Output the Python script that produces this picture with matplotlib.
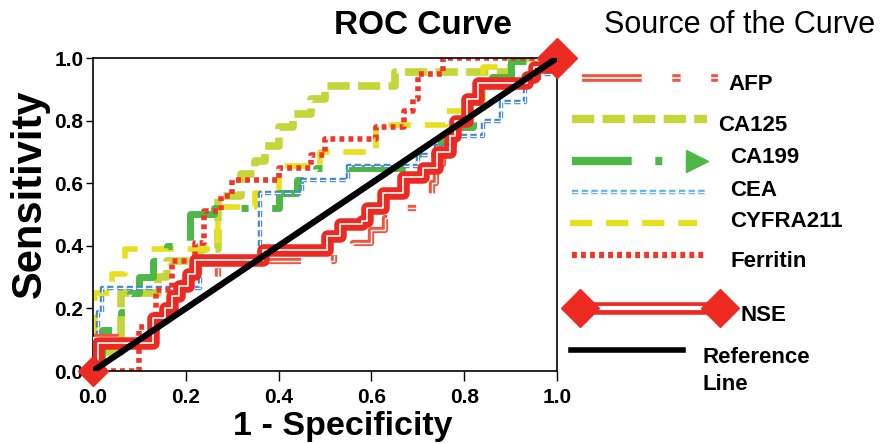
import matplotlib
matplotlib.use('Agg')
import matplotlib.pyplot as plt

plt.rcParams['font.family'] = ['Liberation Sans', 'DejaVu Sans']
plt.rcParams['lines.scale_dashes'] = False

# ROC points, left end of each horizontal step (1 - specificity, sensitivity)
afp_fpr = [0, 0.0, 0.13, 0.15, 0.17, 0.19, 0.27, 0.52, 0.56, 0.60, 0.63, 0.67, 0.70, 0.73, 0.74, 0.755, 0.77, 0.79, 0.81, 0.83, 0.90, 0.96, 1.0]
afp_tpr = [0, 0.11, 0.15, 0.20, 0.25, 0.28, 0.35, 0.38, 0.41, 0.45, 0.49, 0.52, 0.56, 0.60, 0.66, 0.70, 0.75, 0.82, 0.87, 0.91, 0.93, 0.98, 1.0]

ca125_fpr = [0, 0.02, 0.06, 0.14, 0.16, 0.23, 0.27, 0.32, 0.35, 0.37, 0.40, 0.43, 0.47, 0.50, 0.65, 0.90, 1.0]
ca125_tpr = [0, 0.06, 0.25, 0.30, 0.35, 0.39, 0.56, 0.63, 0.67, 0.72, 0.78, 0.82, 0.87, 0.91, 0.955, 1.0, 1.0]

ca199_fpr = [0, 0.005, 0.02, 0.06, 0.08, 0.10, 0.13, 0.16, 0.21, 0.26, 0.40, 0.44, 0.48, 0.70, 0.75, 0.78, 0.82, 0.86, 0.90, 1.0]
ca199_tpr = [0, 0.04, 0.13, 0.19, 0.25, 0.30, 0.35, 0.40, 0.50, 0.52, 0.57, 0.61, 0.65, 0.70, 0.74, 0.78, 0.86, 0.94, 0.99, 1.0]

cea_fpr = [0, 0.01, 0.02, 0.23, 0.36, 0.45, 0.55, 0.70, 0.74, 0.78, 0.84, 0.88, 0.93, 1.0]
cea_tpr = [0, 0.19, 0.265, 0.355, 0.57, 0.61, 0.655, 0.69, 0.72, 0.75, 0.80, 0.86, 0.95, 1.0]

cyfra_fpr = [0, 0.005, 0.04, 0.07, 0.27, 0.35, 0.40, 0.49, 0.61, 0.76, 0.84, 0.88, 1.0]
cyfra_tpr = [0, 0.25, 0.31, 0.39, 0.525, 0.57, 0.655, 0.70, 0.785, 0.83, 0.97, 1.0, 1.0]

ferritin_fpr = [0, 0.10, 0.135, 0.17, 0.22, 0.24, 0.275, 0.30, 0.40, 0.47, 0.50, 0.61, 0.67, 0.69, 0.70, 0.755, 1.0]
ferritin_tpr = [0, 0.14, 0.26, 0.35, 0.41, 0.51, 0.56, 0.61, 0.65, 0.69, 0.74, 0.78, 0.83, 0.87, 0.95, 1.0, 1.0]

nse_fpr = [0, 0.01, 0.13, 0.155, 0.17, 0.185, 0.205, 0.22, 0.366, 0.504, 0.532, 0.58, 0.59, 0.625, 0.668, 0.711, 0.741, 0.769, 0.78, 0.806, 0.83, 0.935, 0.95, 1.0]
nse_tpr = [0, 0.09, 0.17, 0.20, 0.24, 0.27, 0.31, 0.355, 0.387, 0.43, 0.47, 0.48, 0.52, 0.57, 0.62, 0.65, 0.70, 0.75, 0.80, 0.87, 0.92, 0.94, 0.97, 1.0]

ref_x = [0, 1]
ref_y = [0, 1]

tick_vals = [0, 0.2, 0.4, 0.6, 0.8, 1.0]
tick_labels = ['0.0', '0.2', '0.4', '0.6', '0.8', '1.0']

names = ['AFP', 'CA125', 'CA199', 'CEA', 'CYFRA211', 'Ferritin', 'NSE']

# colours
c_afp = '#f2553f'
c_ca125 = '#c5d63a'
c_ca199 = '#4db848'
c_cea = '#3f86d6'
c_cea_leg = '#55b5e6'
c_cyfra = '#e6e01e'
c_fer = '#f0352b'
c_nse = '#ec2a22'

d_afp = (43, 22, 6, 22)
d_ca125 = (16, 6)
d_ca199 = (43, 17, 5, 17)
d_cea = (4.5, 2.5)
d_cyfra = (16, 10)
d_fer = (3.5, 3)

fig = plt.figure(figsize=(8.84, 4.44), dpi=100)
ax = fig.add_axes([93 / 884, 1 - 371 / 444, 464 / 884, 313 / 444])


def double_step(a, x, y, color, lw, core, dashes=None, z=2):
    l1, = a.step(x, y, where='post', color=color, lw=lw, zorder=z)
    l2, = a.step(x, y, where='post', color='white', lw=core, zorder=z + 0.01)
    if dashes:
        l1.set_dashes(dashes)
        l2.set_dashes(dashes)


s, = ax.step(ca125_fpr, ca125_tpr, where='post', color=c_ca125, lw=5.5, zorder=2)
s.set_dashes(d_ca125)
s, = ax.step(cyfra_fpr, cyfra_tpr, where='post', color=c_cyfra, lw=4, zorder=2.1)
s.set_dashes(d_cyfra)
s, = ax.step(ca199_fpr, ca199_tpr, where='post', color=c_ca199, lw=5, zorder=2.2)
s.set_dashes(d_ca199)
double_step(ax, cea_fpr, cea_tpr, c_cea, 3.2, 0.9, d_cea, z=2.3)
s, = ax.step(ferritin_fpr, ferritin_tpr, where='post', color=c_fer, lw=4, zorder=2.4)
s.set_dashes(d_fer)
double_step(ax, afp_fpr, afp_tpr, c_afp, 4.5, 1.0, d_afp, z=2.5)
double_step(ax, nse_fpr, nse_tpr, c_nse, 9, 1.2, None, z=2.6)
ax.plot(nse_fpr[:1], nse_tpr[:1], 'D', color=c_nse, ms=15, zorder=2.7, clip_on=False)
ax.plot(nse_fpr[-1:], nse_tpr[-1:], 'D', color=c_nse, ms=20, zorder=2.7, clip_on=False)
ax.plot(ref_x, ref_y, color='black', lw=4.5, zorder=3, solid_capstyle='round')

ax.set_xlim(0, 1)
ax.set_ylim(0, 1)
ax.set_xticks(tick_vals)
ax.set_xticklabels(tick_labels, fontsize=15, fontweight='bold')
ax.set_yticks(tick_vals)
ax.set_yticklabels(tick_labels, fontsize=15, fontweight='bold')
ax.tick_params(axis='x', length=7, width=1, pad=5)
ax.tick_params(axis='y', length=5, width=1, pad=2)
for sp in ax.spines.values():
    sp.set_linewidth(1.2)

# overlay for titles and legend, in pixel coordinates
lg = fig.add_axes([0, 0, 1, 1])
lg.set_xlim(0, 884)
lg.set_ylim(444, 0)
lg.axis('off')
lg.patch.set_visible(False)

lg.text(423, 26, 'ROC Curve', fontsize=24, fontweight='bold', ha='center', va='center')
lg.text(604, 25, 'Source of the Curve', fontsize=22, ha='left', va='center')
lg.text(343, 426, '1 - Specificity', fontsize=24.5, fontweight='bold', ha='center', va='center')
lg.text(30, 194, 'Sensitivity', fontsize=30, fontweight='bold', ha='center', va='center', rotation=90)

lab = dict(fontsize=16, fontweight='bold', ha='left', va='center')

# AFP
a, = lg.plot([582, 718], [78, 78], color=c_afp, lw=5.5)
a.set_dashes(d_afp)
b, = lg.plot([582, 718], [78, 78], color='white', lw=1.2)
b.set_dashes(d_afp)
lg.text(728, 84, names[0], **lab)
# CA125
a, = lg.plot([572, 707], [119, 119], color=c_ca125, lw=6)
a.set_dashes(d_ca125)
lg.text(718, 125, names[1], **lab)
# CA199
a, = lg.plot([572, 690], [161, 161], color=c_ca199, lw=6)
a.set_dashes(d_ca199)
lg.plot([697], [161], '>', color=c_ca199, ms=16)
lg.text(730, 157, names[2], **lab)
# CEA
a, = lg.plot([572, 707], [192, 192], color=c_cea_leg, lw=3.2)
a.set_dashes(d_cea)
b, = lg.plot([572, 707], [192, 192], color='white', lw=0.9)
b.set_dashes(d_cea)
lg.text(730, 190, names[3], **lab)
# CYFRA211
a, = lg.plot([570, 697], [223, 223], color=c_cyfra, lw=4.5)
a.set_dashes(d_cyfra)
lg.text(730, 221, names[4], **lab)
# Ferritin
a, = lg.plot([572, 707], [255, 255], color=c_fer, lw=4.5)
a.set_dashes(d_fer)
lg.text(730, 261, names[5], **lab)
# NSE
lg.plot([580, 720], [308, 308], color=c_nse, lw=9)
lg.plot([580, 720], [308, 308], color='white', lw=3)
lg.plot([580, 720], [308, 308], 'D', color=c_nse, ms=19, lw=0)
lg.text(740, 315, names[6], **lab)
# Reference line
lg.plot([571, 683], [350, 350], color='black', lw=4)
lg.text(703, 357, 'Reference', **lab)
lg.text(703, 384, 'Line', **lab)

fig.savefig('out.png', dpi=100)
